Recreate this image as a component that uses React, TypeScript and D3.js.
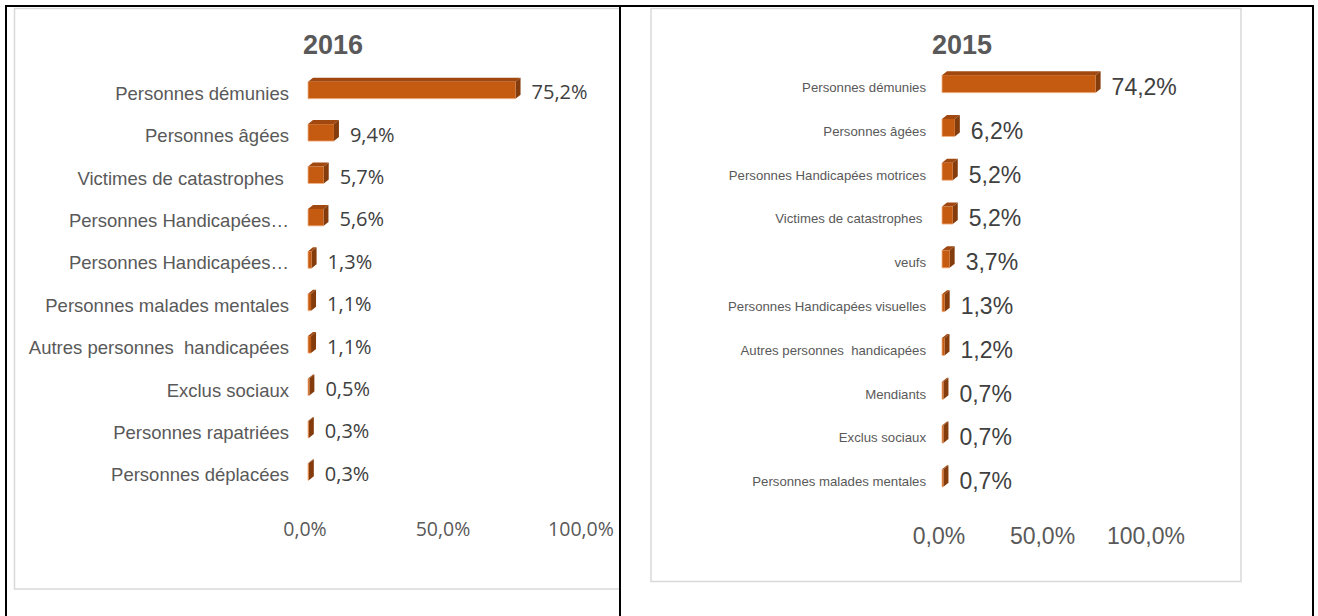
import React from 'react';
import * as d3 from 'd3';

// 2016 panel
const categories2016 = [
  'Personnes démunies',
  'Personnes âgées',
  'Victimes de catastrophes ',
  'Personnes Handicapées…',
  'Personnes Handicapées…',
  'Personnes malades mentales',
  'Autres personnes  handicapées',
  'Exclus sociaux',
  'Personnes rapatriées',
  'Personnes déplacées',
];
const values2016 = [75.2, 9.4, 5.7, 5.6, 1.3, 1.1, 1.1, 0.5, 0.3, 0.3];

// 2015 panel
const categories2015 = [
  'Personnes démunies',
  'Personnes âgées',
  'Personnes Handicapées motrices',
  'Victimes de catastrophes ',
  'veufs',
  'Personnes Handicapées visuelles',
  'Autres personnes  handicapées',
  'Mendiants',
  'Exclus sociaux',
  'Personnes malades mentales',
];
const values2015 = [74.2, 6.2, 5.2, 5.2, 3.7, 1.3, 1.2, 0.7, 0.7, 0.7];

const axisTicks = [0, 50, 100];

const FRONT = '#C55A11';
const TOP = '#A04810';
const SIDE = '#843C0C';
const DX = 5;
const DY = 4;

const pct = (v: number) => d3.format('.1f')(v).replace('.', ',') + '%';

type PanelProps = {
  title: string;
  cats: string[];
  vals: number[];
  titleX: number;
  xRange: [number, number];
  yRange: [number, number];
  labelX: number;
  catFont: string;
  catSize: number;
  catDy: number;
  valFont: string;
  valSize: number;
  valDy: number;
  axisFont: string;
  axisSize: number;
  axisY: number;
};

function Panel(p: PanelProps) {
  const x = d3.scaleLinear().domain([0, 100]).range(p.xRange);
  const y = d3
    .scaleBand<string>()
    .domain(p.cats.map((_, i) => String(i)))
    .range(p.yRange)
    .paddingInner(0.6)
    .paddingOuter(0.3);
  const h = y.bandwidth();

  return (
    <g>
      <text
        x={p.titleX}
        y={54}
        textAnchor="middle"
        fontFamily="Liberation Sans, Arial, sans-serif"
        fontWeight="bold"
        fontSize={27}
        fill="#595959"
      >
        {p.title}
      </text>
      {p.cats.map((c, i) => {
        const by = (y(String(i)) as number) - 4;
        const cy = by + h / 2;
        const x0 = x(0);
        const x1 = x(p.vals[i]);
        return (
          <g key={i}>
            <text
              x={p.labelX}
              y={cy + 4 + p.catDy}
              textAnchor="end"
              fontFamily={p.catFont}
              fontSize={p.catSize}
              fill="#595959"
              style={{ whiteSpace: 'pre' }}
            >
              {c}
            </text>
            <polygon
              points={`${x0},${by} ${x0 + DX},${by - DY} ${x1 + DX},${by - DY} ${x1},${by}`}
              fill={TOP}
            />
            <polygon
              points={`${x1},${by} ${x1 + DX},${by - DY} ${x1 + DX},${by + h - DY} ${x1},${by + h}`}
              fill={SIDE}
            />
            <rect x={x0} y={by} width={x1 - x0} height={h} fill={FRONT} />
            <line x1={x0} y1={by} x2={x0} y2={by + h} stroke="#F4B183" strokeWidth={0.8} />
            <line x1={x0} y1={by + h} x2={x1} y2={by + h} stroke="#F4B183" strokeWidth={0.8} />
            <text
              x={x1 + DX + 11}
              y={cy + p.valDy}
              fontFamily={p.valFont}
              fontSize={p.valSize}
              fill="#404040"
            >
              {pct(p.vals[i])}
            </text>
          </g>
        );
      })}
      {axisTicks.map((t) => (
        <text
          key={t}
          x={x(t) - 3}
          y={p.axisY}
          textAnchor="middle"
          fontFamily={p.axisFont}
          fontSize={p.axisSize}
          fill="#595959"
        >
          {pct(t)}
        </text>
      ))}
    </g>
  );
}

export default function App() {
  return (
    <svg
      width={1318}
      height={616}
      style={{ position: 'absolute', left: 0, top: 0, background: '#fff' }}
    >
      <rect width={1318} height={616} fill="#fff" />
      {/* chart frames */}
      <g stroke="#D9D9D9" strokeWidth={1.5} fill="none">
        <path d="M619,8.5 H14.5 V589 H619" />
        <rect x={651} y={8.5} width={590} height={573} />
      </g>
      <Panel
        title="2016"
        cats={categories2016}
        vals={values2016}
        titleX={333}
        xRange={[308, 584]}
        yRange={[73, 497]}
        labelX={289}
        catFont="Liberation Sans, Arial, sans-serif"
        catSize={18.5}
        catDy={5.5}
        valFont="Open Sans, sans-serif"
        valSize={20}
        valDy={9}
        axisFont="Open Sans, sans-serif"
        axisSize={19.5}
        axisY={536}
      />
      <Panel
        title="2015"
        cats={categories2015}
        vals={values2015}
        titleX={962}
        xRange={[942, 1149]}
        yRange={[66, 504]}
        labelX={926}
        catFont="Liberation Sans, Arial, sans-serif"
        catSize={13.2}
        catDy={4}
        valFont="Liberation Sans, Arial, sans-serif"
        valSize={23}
        valDy={11}
        axisFont="Liberation Sans, Arial, sans-serif"
        axisSize={23}
        axisY={544}
      />
      {/* table borders */}
      <g stroke="#000" strokeWidth={2} fill="none">
        <line x1={6} y1={6} x2={1313} y2={6} />
        <line x1={6} y1={5} x2={6} y2={616} />
        <line x1={620} y1={5} x2={620} y2={616} />
        <line x1={1313} y1={5} x2={1313} y2={616} />
      </g>
    </svg>
  );
}
